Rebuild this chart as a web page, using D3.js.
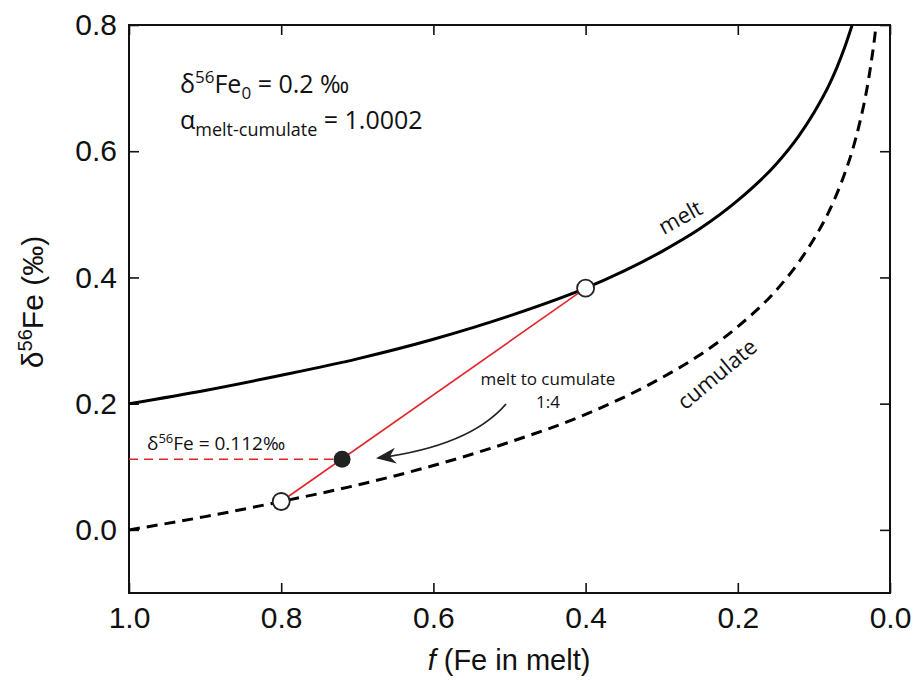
<!DOCTYPE html>
<html><head><meta charset="utf-8">
<script src="https://cdn.jsdelivr.net/npm/d3@7"></script>
<style>body{margin:0;background:#fff}svg{display:block}</style>
</head><body>
<script>
// Data
const meltF   = [1.0, 0.9, 0.8, 0.7, 0.6, 0.5, 0.4, 0.3, 0.25, 0.2, 0.15, 0.12, 0.1, 0.08, 0.07, 0.06, 0.05];
const meltD   = [0.200, 0.221, 0.245, 0.271, 0.302, 0.339, 0.383, 0.441, 0.477, 0.522, 0.579, 0.624, 0.661, 0.705, 0.732, 0.763, 0.799];
const cumF    = [1.0, 0.9, 0.8, 0.7, 0.6, 0.5, 0.4, 0.3, 0.25, 0.2, 0.15, 0.12, 0.1, 0.08, 0.06, 0.05, 0.04, 0.03, 0.025, 0.02, 0.018];
const cumD    = [0.000, 0.021, 0.045, 0.071, 0.102, 0.139, 0.183, 0.241, 0.277, 0.322, 0.379, 0.424, 0.461, 0.505, 0.563, 0.599, 0.644, 0.701, 0.738, 0.782, 0.803];
const mixLineF = [0.8, 0.4];
const mixLineD = [0.045, 0.383];
const openPtsF = [0.8, 0.4];
const openPtsD = [0.045, 0.383];
const mixPtF = 0.72;
const mixPtD = 0.112;
const xTicks = [1.0, 0.8, 0.6, 0.4, 0.2, 0.0];
const yTicks = [0.0, 0.2, 0.4, 0.6, 0.8];

const W = 917, H = 680;
const L = 129, R = 890, T = 25, B = 593;
const svg = d3.select("body").append("svg").attr("width", W).attr("height", H);
const x = d3.scaleLinear().domain([1.0, 0.0]).range([L, R]);
const y = d3.scaleLinear().domain([-0.1, 0.8]).range([B, T]);

const defs = svg.append("defs");
defs.append("clipPath").attr("id","clip").append("rect").attr("x",L).attr("y",T).attr("width",R-L).attr("height",B-T);
defs.append("marker").attr("id","arr").attr("viewBox","0 0 10 10").attr("refX",9).attr("refY",5)
  .attr("markerUnits","userSpaceOnUse").attr("markerWidth",20).attr("markerHeight",16).attr("orient","auto")
  .attr("preserveAspectRatio","none")
  .append("path").attr("d","M10,5 L0,0 L3,5 L0,10 Z").attr("fill","#222");

const tickFont = "'Liberation Sans', Arial, sans-serif";
const annFont = "'Open Sans', 'Noto Sans', sans-serif";

// Axes with inward ticks
const gx = svg.append("g").attr("transform",`translate(0,${B})`)
  .call(d3.axisBottom(x).tickValues(xTicks).tickFormat(d3.format(".1f")).tickSizeInner(-10).tickSizeOuter(0).tickPadding(14));
const gxt = svg.append("g").attr("transform",`translate(0,${T})`)
  .call(d3.axisTop(x).tickValues(xTicks).tickFormat("").tickSizeInner(-10).tickSizeOuter(0));
const gy = svg.append("g").attr("transform",`translate(${L},0)`)
  .call(d3.axisLeft(y).tickValues(yTicks).tickFormat(d3.format(".1f")).tickSizeInner(-10).tickSizeOuter(0).tickPadding(12));
const gyr = svg.append("g").attr("transform",`translate(${R},0)`)
  .call(d3.axisRight(y).tickValues(yTicks).tickFormat("").tickSizeInner(-10).tickSizeOuter(0));
[gx,gxt,gy,gyr].forEach(g=>{
  g.select(".domain").remove();
  g.selectAll(".tick line").attr("stroke","#111").attr("stroke-width",1.6);
  g.selectAll("text").attr("font-family",tickFont).attr("font-size",30).attr("fill","#111");
});
svg.append("rect").attr("x",L).attr("y",T).attr("width",R-L).attr("height",B-T)
  .attr("fill","none").attr("stroke","#111").attr("stroke-width",2);

// Curves
const line = d3.line().x(d=>x(d[0])).y(d=>y(d[1])).curve(d3.curveMonotoneX);
const plot = svg.append("g").attr("clip-path","url(#clip)");
plot.append("path").datum(meltF.map((f,i)=>[f,meltD[i]])).attr("d",line)
  .attr("fill","none").attr("stroke","#000").attr("stroke-width",3);
plot.append("path").datum(cumF.map((f,i)=>[f,cumD[i]])).attr("d",line)
  .attr("fill","none").attr("stroke","#000").attr("stroke-width",3).attr("stroke-dasharray","11,7");

// Red dashed horizontal
plot.append("line").attr("x1",x(1.0)).attr("x2",x(mixPtF)).attr("y1",y(mixPtD)).attr("y2",y(mixPtD))
  .attr("stroke","#e0262b").attr("stroke-width",1.6).attr("stroke-dasharray","9,6");
// Red mixing line
plot.append("line").attr("x1",x(mixLineF[0])).attr("y1",y(mixLineD[0])).attr("x2",x(mixLineF[1])).attr("y2",y(mixLineD[1]))
  .attr("stroke","#e0262b").attr("stroke-width",1.6);

// Points
svg.selectAll(".open").data(openPtsF.map((f,i)=>[f,openPtsD[i]])).join("circle")
  .attr("cx",d=>x(d[0])).attr("cy",d=>y(d[1])).attr("r",8.5)
  .attr("fill","#fff").attr("stroke","#222").attr("stroke-width",1.8);
svg.append("circle").attr("cx",x(mixPtF)).attr("cy",y(mixPtD)).attr("r",8.5).attr("fill","#222");

// Arrow
svg.append("path").attr("d","M506,404 Q470,446 378,458")
  .attr("fill","none").attr("stroke","#222").attr("stroke-width",1.8).attr("marker-end","url(#arr)");

// Annotations
const ann = svg.append("g").attr("font-family",annFont).attr("fill","#111");
const t1 = ann.append("text").attr("x",180).attr("y",93).attr("font-size",25);
t1.append("tspan").text("δ");
t1.append("tspan").attr("dy",-10).attr("font-size",17).text("56");
t1.append("tspan").attr("dy",10).text("Fe");
t1.append("tspan").attr("dy",6).attr("font-size",17).text("0");
t1.append("tspan").attr("dy",-6).text(" = 0.2 ‰");
const t2 = ann.append("text").attr("x",180).attr("y",129).attr("font-size",25);
t2.append("tspan").text("α");
t2.append("tspan").attr("dy",7).attr("font-size",18).text("melt-cumulate");
t2.append("tspan").attr("dy",-7).text(" = 1.0002");

const t3 = ann.append("text").attr("x",147).attr("y",450).attr("font-size",19);
t3.append("tspan").text("δ");
t3.append("tspan").attr("dy",-7).attr("font-size",13).text("56");
t3.append("tspan").attr("dy",7).text("Fe = 0.112‰");

ann.append("text").attr("x",548).attr("y",385).attr("text-anchor","middle").attr("font-size",17).text("melt to cumulate");
ann.append("text").attr("x",548).attr("y",408).attr("text-anchor","middle").attr("font-size",17).text("1:4");

ann.append("text").attr("transform","translate(684,224) rotate(-29)").attr("text-anchor","middle")
  .attr("font-size",22).text("melt");
ann.append("text").attr("transform","translate(722,380) rotate(-40)").attr("text-anchor","middle")
  .attr("font-size",22).text("cumulate");

// Axis titles
const xt = svg.append("text").attr("x",509).attr("y",670).attr("text-anchor","middle")
  .attr("font-family",tickFont).attr("font-size",29).attr("fill","#111");
xt.append("tspan").attr("font-style","italic").text("f");
xt.append("tspan").text(" (Fe in melt)");
const yt = svg.append("text").attr("transform","translate(43,302) rotate(-90)").attr("text-anchor","middle")
  .attr("font-family",tickFont).attr("font-size",30).attr("fill","#111");
yt.append("tspan").text("δ");
yt.append("tspan").attr("dy",-11).attr("font-size",20).text("56");
yt.append("tspan").attr("dy",11).text("Fe (‰)");
</script>
</body></html>
